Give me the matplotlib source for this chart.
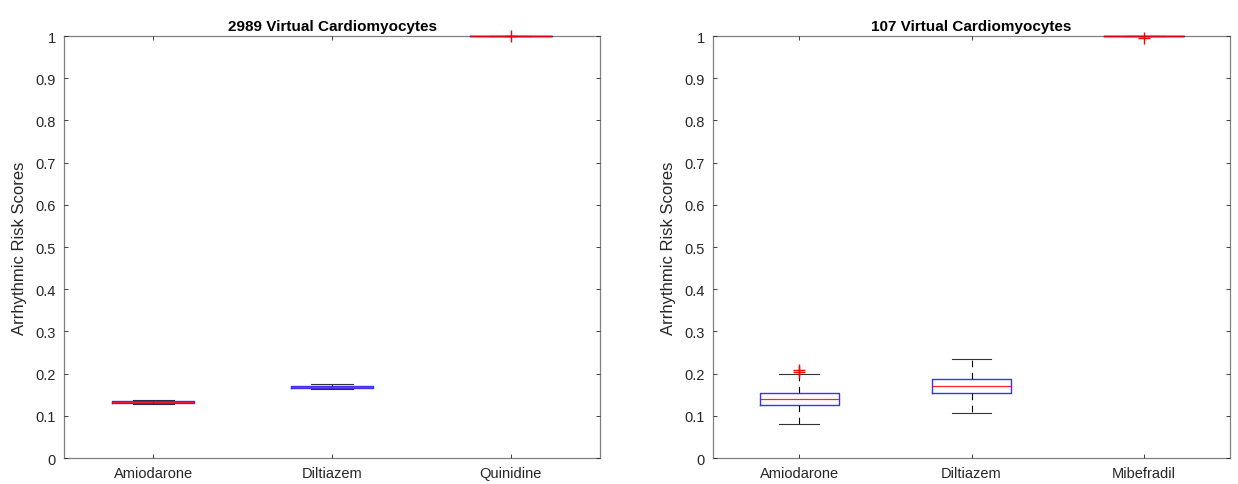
import matplotlib
matplotlib.use("Agg")
import matplotlib.pyplot as plt

plt.rcParams['font.family'] = ['Liberation Sans', 'DejaVu Sans']

# Left panel: 2989 virtual cardiomyocytes
left_title = "2989 Virtual Cardiomyocytes"
left_drugs = ["Amiodarone", "Diltiazem", "Quinidine"]
left_whislo = [0.127, 0.163, 1.0]
left_q1 = [0.131, 0.166, 1.0]
left_med = [0.133, 0.168, 1.0]
left_q3 = [0.136, 0.171, 1.0]
left_whishi = [0.138, 0.175, 1.0]
left_fliers = [[], [], [0.999]]

# Right panel: 107 virtual cardiomyocytes
right_title = "107 Virtual Cardiomyocytes"
right_drugs = ["Amiodarone", "Diltiazem", "Mibefradil"]
right_whislo = [0.080, 0.107, 1.0]
right_q1 = [0.125, 0.154, 1.0]
right_med = [0.140, 0.171, 1.0]
right_q3 = [0.155, 0.187, 1.0]
right_whishi = [0.200, 0.235, 1.0]
right_fliers = [[0.203, 0.209], [], [0.995]]

yticks = [0, 0.1, 0.2, 0.3, 0.4, 0.5, 0.6, 0.7, 0.8, 0.9, 1]
ytick_labels = ["0", "0.1", "0.2", "0.3", "0.4", "0.5", "0.6", "0.7", "0.8", "0.9", "1"]
ylabel = "Arrhythmic Risk Scores"

fig = plt.figure(figsize=(12.38, 4.85), dpi=100)
ax1 = fig.add_axes([0.0517, 0.0536, 0.433, 0.870])
ax2 = fig.add_axes([0.576, 0.0536, 0.4176, 0.870])


def draw(ax, title, drugs, wlo, q1, med, q3, whi, fl):
    stats = []
    for i in range(len(drugs)):
        stats.append(dict(label=drugs[i], whislo=wlo[i], q1=q1[i], med=med[i],
                          q3=q3[i], whishi=whi[i], fliers=fl[i]))
    res = ax.bxp(stats, positions=[1, 2, 3], widths=0.46, showfliers=True,
                 boxprops=dict(color='#0000FF', linewidth=1.0),
                 medianprops=dict(color='#FF0000', linewidth=0.9),
                 whiskerprops=dict(color='black', linewidth=0.8, linestyle=(0, (6, 5))),
                 capprops=dict(color='#333333', linewidth=0.8),
                 capwidths=0.23,
                 flierprops=dict(marker='+', markeredgecolor='#FF0000', markersize=8,
                                 markeredgewidth=1.0, linestyle='none'))
    for b in res['boxes']:
        b.set_zorder(4)
        b.set_alpha(0.8)
    for m in res['medians']:
        m.set_zorder(5)
        m.set_alpha(0.85)
    for c in res['caps']:
        c.set_zorder(2)
    ax.set_xlim(0.5, 3.5)
    ax.set_ylim(0, 1)
    ax.set_yticks(yticks)
    ax.set_yticklabels(ytick_labels)
    ax.set_xticks([1, 2, 3])
    ax.set_xticklabels(drugs)
    ax.set_ylabel(ylabel, fontsize=12, color='#262626', labelpad=6)
    ax.set_title(title, fontsize=11, fontweight='bold', pad=4)
    ax.tick_params(direction='in', top=True, right=True, length=3, width=0.6,
                   labelsize=10.5, colors='#262626', pad=6)
    for s in ax.spines.values():
        s.set_color('#808080')
        s.set_linewidth(0.9)
        s.set_zorder(0)
    for t in ax.get_xticklabels() + ax.get_yticklabels():
        t.set_color('#262626')


draw(ax1, left_title, left_drugs, left_whislo, left_q1, left_med, left_q3, left_whishi, left_fliers)
draw(ax2, right_title, right_drugs, right_whislo, right_q1, right_med, right_q3, right_whishi, right_fliers)

for ax in (ax1, ax2):
    for art in ax.lines:
        art.set_clip_on(False)

fig.savefig("out.png", dpi=100)
